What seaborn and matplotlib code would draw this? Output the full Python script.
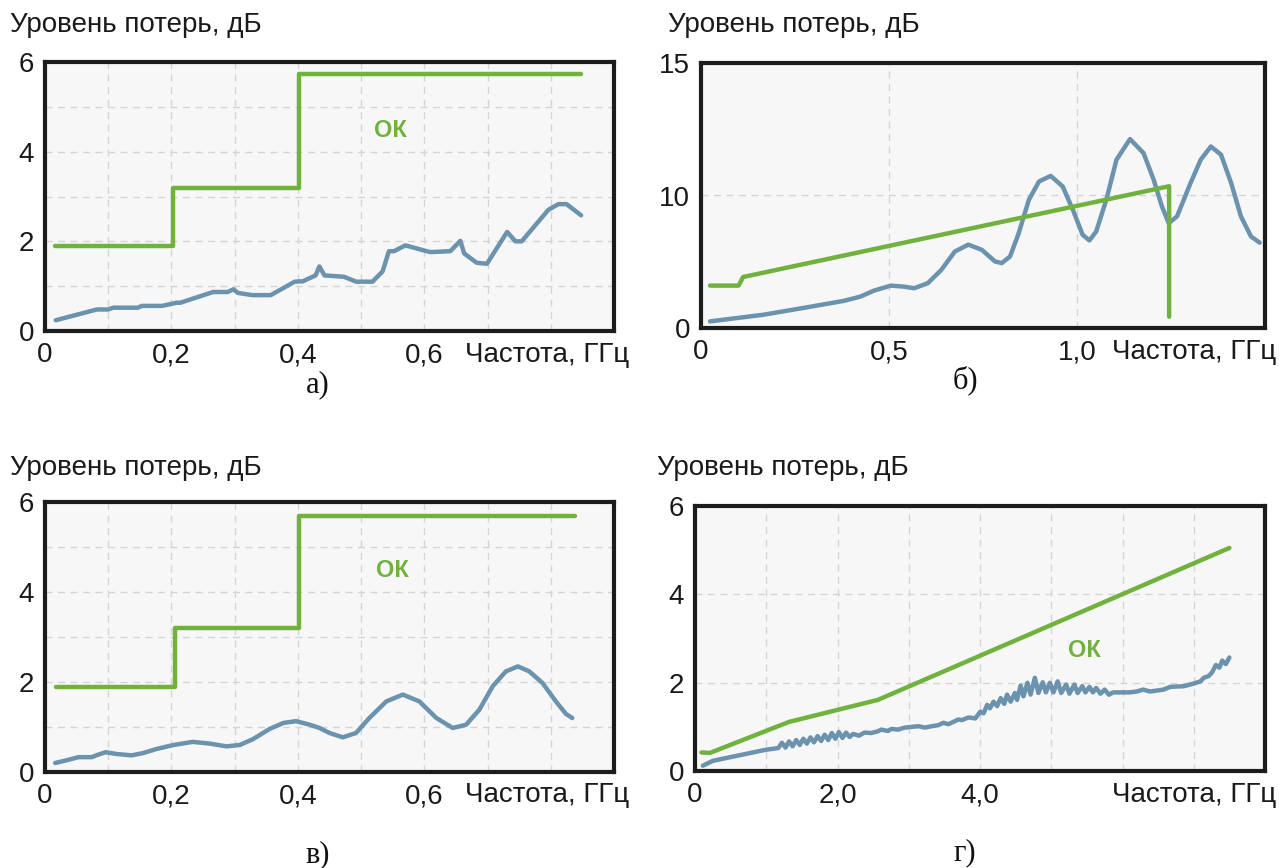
import numpy as np
import matplotlib
matplotlib.use("Agg")
import matplotlib.pyplot as plt
import seaborn as sns

GREEN = "#71b23f"
BLUE = "#6b93ae"

# а) step limit + measured loss
a_green_x = [0.016, 0.203, 0.203, 0.402, 0.402, 0.848]
a_green_y = [1.9, 1.9, 3.2, 3.2, 5.73, 5.73]
a_blue_x = [0.017, 0.082, 0.10, 0.108, 0.147, 0.153, 0.185, 0.208, 0.214, 0.266,
            0.289, 0.298, 0.305, 0.328, 0.357, 0.395, 0.408, 0.428, 0.434, 0.442,
            0.473, 0.492, 0.518, 0.534, 0.544, 0.552, 0.570, 0.609, 0.641, 0.657,
            0.663, 0.683, 0.699, 0.731, 0.744, 0.754, 0.796, 0.812, 0.825, 0.848]
a_blue_y = [0.24, 0.48, 0.48, 0.52, 0.52, 0.56, 0.56, 0.63, 0.63, 0.87,
            0.87, 0.93, 0.85, 0.80, 0.80, 1.10, 1.11, 1.24, 1.44, 1.24,
            1.21, 1.10, 1.10, 1.33, 1.78, 1.78, 1.91, 1.76, 1.78, 2.01,
            1.73, 1.52, 1.50, 2.21, 2.00, 2.00, 2.70, 2.83, 2.83, 2.58]

# б) sloped limit + resonant loss (y axis: 0..10 lower half, 10..15 upper half)
b_green_x = [0.024, 0.10, 0.112, 1.245, 1.245]
b_green_y = [3.2, 3.2, 3.85, 10.35, 0.85]
b_blue_x = [0.024, 0.166, 0.298, 0.38, 0.424, 0.460, 0.505, 0.540, 0.567, 0.603,
            0.639, 0.675, 0.711, 0.747, 0.782, 0.800, 0.822, 0.845, 0.872, 0.899,
            0.930, 0.962, 0.989, 1.015, 1.033, 1.051, 1.078, 1.105, 1.141, 1.177,
            1.204, 1.226, 1.244, 1.266, 1.302, 1.329, 1.356, 1.383, 1.410, 1.436,
            1.463, 1.486]
b_blue_y = [0.5, 1.0, 1.64, 2.05, 2.37, 2.82, 3.20, 3.12, 3.0, 3.38,
            4.38, 5.77, 6.29, 5.90, 5.02, 4.90, 5.40, 7.16, 9.68, 10.53,
            10.74, 10.34, 8.92, 7.03, 6.61, 7.28, 9.68, 11.35, 12.13, 11.60,
            10.59, 9.16, 7.92, 8.42, 10.47, 11.35, 11.85, 11.54, 10.47, 8.42,
            6.90, 6.44]

# в) step limit + wavy loss
c_green_x = [0.017, 0.205, 0.205, 0.402, 0.402, 0.838]
c_green_y = [1.89, 1.89, 3.19, 3.19, 5.70, 5.70]
c_blue_x = [0.016, 0.034, 0.053, 0.074, 0.084, 0.096, 0.113, 0.137, 0.155, 0.176,
            0.203, 0.234, 0.261, 0.287, 0.308, 0.329, 0.355, 0.377, 0.397, 0.419,
            0.434, 0.450, 0.471, 0.492, 0.513, 0.540, 0.566, 0.592, 0.619, 0.645,
            0.666, 0.687, 0.708, 0.729, 0.748, 0.766, 0.787, 0.808, 0.824, 0.834]
c_blue_y = [0.20, 0.26, 0.33, 0.33, 0.385, 0.44, 0.40, 0.37, 0.42, 0.51,
            0.60, 0.67, 0.63, 0.57, 0.60, 0.73, 0.955, 1.09, 1.13, 1.05,
            0.98, 0.867, 0.77, 0.867, 1.20, 1.57, 1.72, 1.57, 1.20, 0.978,
            1.05, 1.384, 1.903, 2.236, 2.347, 2.236, 1.977, 1.57, 1.29, 1.20]

# г) broadband limit + ripple loss
d_green_x = [0.09, 0.21, 1.316, 2.566, 7.50]
d_green_y = [0.42, 0.41, 1.11, 1.61, 5.05]
d_blue_x = [0.11, 0.25, 0.99, 1.17,
            1.22, 1.27, 1.32, 1.37, 1.42, 1.47, 1.52, 1.57, 1.62, 1.67,
            1.72, 1.77, 1.82, 1.87, 1.92, 1.97, 2.02, 2.07, 2.12, 2.17,
            2.22, 2.30, 2.38, 2.472, 2.566, 2.614, 2.708, 2.755, 2.850, 2.944,
            3.038, 3.133, 3.227, 3.321, 3.415, 3.486, 3.557, 3.628, 3.698,
            3.745, 3.84, 3.934, 4.005, 4.05, 4.10, 4.14, 4.19, 4.24, 4.29,
            4.34, 4.38, 4.43, 4.49, 4.52, 4.57, 4.61, 4.666, 4.71, 4.77,
            4.82, 4.88, 4.925, 4.98, 5.03, 5.09, 5.14, 5.21, 5.255, 5.325,
            5.37, 5.435, 5.48, 5.537, 5.585, 5.63, 5.69, 5.75, 5.81, 5.87,
            6.104, 6.199, 6.29, 6.387, 6.575, 6.67, 6.86, 7.0, 7.095, 7.14,
            7.21, 7.26, 7.31, 7.36, 7.40, 7.45, 7.50]
d_blue_y = [0.12, 0.23, 0.48, 0.52,
            0.64, 0.53, 0.67, 0.56, 0.70, 0.59, 0.73, 0.62, 0.76, 0.65,
            0.79, 0.68, 0.82, 0.70, 0.86, 0.73, 0.88, 0.75, 0.87, 0.77,
            0.84, 0.80, 0.87, 0.86, 0.898, 0.937, 0.906, 0.952, 0.937, 0.983,
            0.998, 1.014, 0.983, 1.014, 1.037, 1.091, 1.060, 1.114, 1.167,
            1.152, 1.213, 1.19, 1.344, 1.306, 1.498, 1.42, 1.57, 1.47, 1.65,
            1.52, 1.73, 1.57, 1.766, 1.61, 1.935, 1.69, 1.997, 1.73, 2.11,
            1.766, 2.01, 1.78, 1.997, 1.78, 2.03, 1.766, 1.958, 1.75, 1.958,
            1.766, 1.92, 1.78, 1.905, 1.78, 1.88, 1.75, 1.843, 1.727, 1.78,
            1.78, 1.80, 1.843, 1.80, 1.843, 1.905, 1.92, 1.98, 2.03, 2.11,
            2.15, 2.24, 2.40, 2.34, 2.50, 2.42, 2.57]

Y_LABEL = "Уровень потерь, дБ"
X_LABEL = "Частота, ГГц"

sns.set_style("white")
plt.rcParams['font.family'] = ['Liberation Sans', 'DejaVu Sans']

W, H = 1279, 868
fig = plt.figure(figsize=(W / 100, H / 100), dpi=100)


def rect(l, t, r, b):
    return [l / W, 1 - b / H, (r - l) / W, (b - t) / H]


def frame(ax, xticks, xlabels, yticks, ylabels):
    ax.set_facecolor('#f7f7f7')
    ax.set_xticks(xticks)
    ax.set_xticklabels(xlabels)
    ax.set_yticks(yticks)
    ax.set_yticklabels(ylabels)
    ax.tick_params(length=0, labelsize=20, pad=8, colors='#1a1a1a')
    ax.grid(True, color='#d4d4d4', linestyle=(0, (5, 4)), linewidth=1)
    ax.set_axisbelow(True)
    for s in ax.spines.values():
        s.set_visible(True)
        s.set_linewidth(3)
        s.set_color('#1c1c1c')
    ax.set_xlabel('')
    ax.set_ylabel('')


def draw(ax, gx, gy, bx, by):
    sns.lineplot(x=bx, y=by, ax=ax, color=BLUE, linewidth=3.2,
                 estimator=None, sort=False, solid_capstyle='round', solid_joinstyle='round')
    sns.lineplot(x=gx, y=gy, ax=ax, color=GREEN, linewidth=3.2,
                 estimator=None, sort=False, solid_capstyle='round')


def texts(xl, xr, ylab_y, xlab_y, tag, tx, ty):
    fig.text(xl / W, 1 - ylab_y / H, Y_LABEL, fontsize=20, ha='left', va='center', color='#1a1a1a')
    fig.text(xr / W, 1 - xlab_y / H, X_LABEL, fontsize=20, ha='right', va='center', color='#1a1a1a')
    fig.text(tx / W, 1 - ty / H, tag, fontsize=22, ha='center', va='center',
             family=['Liberation Serif', 'DejaVu Serif'], color='#111111')


small_x = [0, 0.1, 0.2, 0.3, 0.4, 0.5, 0.6, 0.7, 0.8]
small_xl = ['0', '', '0,2', '', '0,4', '', '0,6', '', '']
six_y = [0, 1, 2, 3, 4, 5, 6]
six_yl = ['0', '', '2', '', '4', '', '6']

# а)
ax = fig.add_axes(rect(45, 62, 614, 331))
draw(ax, a_green_x, a_green_y, a_blue_x, a_blue_y)
ax.set_xlim(0, 0.9)
ax.set_ylim(0, 6)
frame(ax, small_x, small_xl, six_y, six_yl)
ax.text(0.547, 4.48, 'ОК', color=GREEN, fontsize=17, fontweight='bold', ha='center', va='center')
texts(10, 629, 25, 355, 'а)', 318, 385)


# б)
def fwd(y):
    y = np.asarray(y, dtype=float)
    return np.where(y <= 10, y / 20, 0.5 + (y - 10) / 10)


def inv(f):
    f = np.asarray(f, dtype=float)
    return np.where(f <= 0.5, f * 20, 10 + (f - 0.5) * 10)


ax = fig.add_axes(rect(701, 63, 1265, 328))
draw(ax, b_green_x, b_green_y, b_blue_x, b_blue_y)
ax.set_yscale('function', functions=(fwd, inv))
ax.set_xlim(0, 1.5)
ax.set_ylim(0, 15)
frame(ax, [0, 0.5, 1.0], ['0', '0,5', '1,0'], [0, 10, 15], ['0', '10', '15'])
ax.yaxis.set_minor_locator(matplotlib.ticker.NullLocator())
texts(668, 1276, 25, 352, 'б)', 965, 380)

# в)
ax = fig.add_axes(rect(45, 502, 614, 772))
draw(ax, c_green_x, c_green_y, c_blue_x, c_blue_y)
ax.set_xlim(0, 0.9)
ax.set_ylim(0, 6)
frame(ax, small_x, small_xl, six_y, six_yl)
ax.text(0.549, 4.47, 'ОК', color=GREEN, fontsize=17, fontweight='bold', ha='center', va='center')
texts(10, 629, 468, 795, 'в)', 318, 855)

# г)
ax = fig.add_axes(rect(695, 506, 1265, 771))
draw(ax, d_green_x, d_green_y, d_blue_x, d_blue_y)
ax.set_xlim(0, 8)
ax.set_ylim(0, 6)
frame(ax, list(range(9)), ['0', '', '2,0', '', '4,0', '', '', '', ''],
      [0, 2, 4, 6], ['0', '2', '4', '6'])
ax.text(5.47, 2.73, 'ОК', color=GREEN, fontsize=17, fontweight='bold', ha='center', va='center')
texts(657, 1276, 468, 795, 'г)', 965, 853)

fig.savefig("out.png", dpi=100, facecolor='white')
